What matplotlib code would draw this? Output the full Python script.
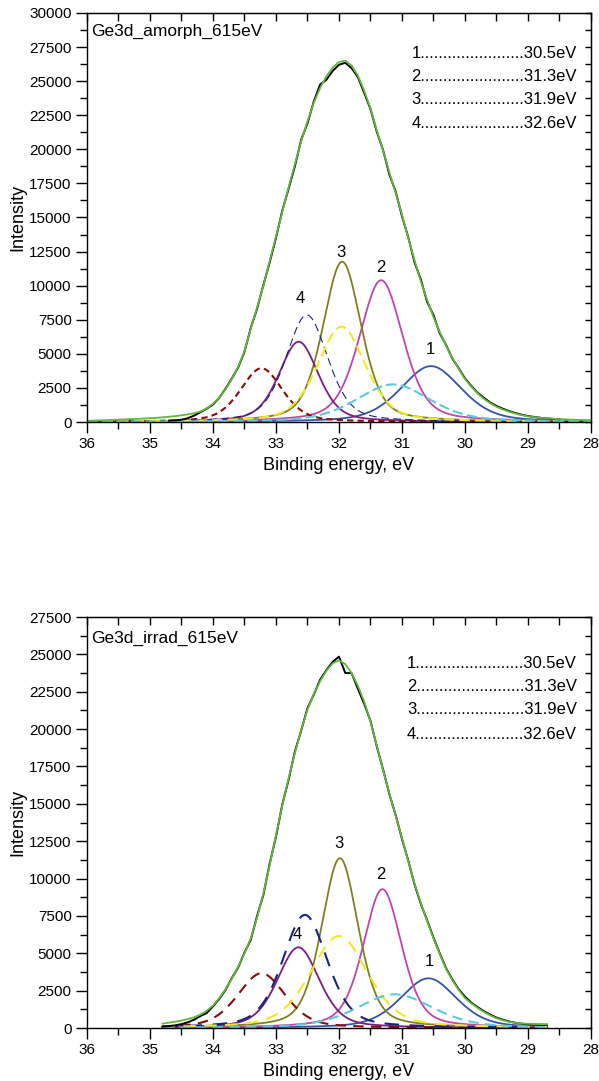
import numpy as np
import matplotlib.pyplot as plt
from matplotlib.ticker import MultipleLocator

plt.rcParams['font.family'] = ['Liberation Sans', 'DejaVu Sans']

a_env_x = np.round(np.arange(36.0, 27.95, -0.1), 1)
a_env_y = [90, 105, 120, 135, 155, 175, 195, 215, 235, 255,
           280, 310, 345, 385, 430, 490, 560, 640, 770, 1000,
           1330, 1800, 2400, 3150, 4050, 5200, 6850, 8400, 10000, 11800,
           13600, 15400, 17200, 18900, 20600, 22050, 23400, 24500, 25350, 26000,
           26400, 26500, 26150, 25400, 24300, 23000, 21400, 19900, 18300, 16800,
           15200, 13500, 11850, 10300, 8950, 7700, 6600, 5600, 4700, 3900,
           3150, 2600, 2100, 1700, 1380, 1120, 920, 760, 620, 510,
           420, 360, 310, 270, 240, 215, 195, 175, 160, 145, 130]

a_dat_x = np.round(np.arange(34.7, 28.45, -0.1), 1)
a_dat_y = [100, 120, 170, 280, 470, 720, 980, 1280, 1780, 2450,
           3200, 4000, 5150, 6900, 8300, 10050, 11700, 13500, 15500, 17100,
           18750, 20700, 21900, 23500, 24750, 25100, 25750, 26200, 26350, 25950,
           25300, 24150, 22950, 21300, 19950, 18150, 16900, 15100, 13550, 11700,
           10450, 8800, 7850, 6500, 5650, 4650, 3950, 3200, 2650, 2150,
           1780, 1430, 1180, 980, 800, 660, 540, 440, 370, 310,
           260, 230, 200]

b_env_x = np.round(np.arange(34.8, 28.65, -0.1), 1)
b_env_y = [290, 360, 420, 500, 600, 720, 900, 1150, 1500, 2000,
           2600, 3300, 4100, 5000, 6000, 7400, 9000, 10900, 12900, 14900,
           16700, 18400, 19950, 21300, 22350, 23200, 23900, 24400, 24600, 24350,
           23750, 22900, 21850, 20500, 18900, 17250, 15700, 14200, 12700, 11150,
           9650, 8350, 7150, 6000, 4950, 3950, 3200, 2550, 2000, 1650,
           1350, 1080, 850, 660, 520, 420, 350, 310, 285, 270,
           265, 260]

b_dat_x = b_env_x
b_dat_y = [100, 130, 180, 260, 380, 560, 800, 1000, 1450, 1950,
           2550, 3350, 4050, 5050, 5900, 7500, 8900, 11000, 12800, 14950,
           16600, 18500, 19900, 21400, 22300, 23300, 23950, 24500, 24850, 23750,
           23750, 22700, 21700, 20550, 18850, 17300, 15650, 14250, 12650, 11200,
           9600, 8300, 7200, 6050, 5000, 4000, 3250, 2600, 2100, 1700,
           1400, 1130, 900, 700, 560, 440, 350, 290, 250, 230,
           215, 210]

# ---- fitted components: centre (eV), height, FWHM (eV) ----
comp_names = ['1', '2', '3', '4', 'red', 'navy', 'yellow', 'cyan']
a_center = [30.54, 31.33, 31.95, 32.64, 33.23, 32.51, 31.96, 31.14]
a_height = [4100, 10400, 11760, 5890, 3940, 7850, 6990, 2760]
a_fwhm = [1.14, 0.82, 0.72, 0.74, 0.79, 0.79, 0.90, 1.38]

b_center = [30.58, 31.31, 31.985, 32.645, 33.23, 32.54, 32.00, 31.11]
b_height = [3325, 9290, 11360, 5400, 3660, 7570, 6160, 2255]
b_fwhm = [1.06, 0.72, 0.69, 0.79, 0.90, 0.84, 1.08, 1.43]

eta = 0.4   # lorentzian fraction of the pseudo-voigt shape

# peak labels (eV, intensity)
a_lab_x = [30.55, 31.33, 31.97, 32.62]
a_lab_y = [5350, 11300, 12450, 9050]
b_lab_x = [30.56, 31.34, 32.0, 32.66]
b_lab_y = [4450, 10250, 12350, 6250]

positions = ['30.5eV', '31.3eV', '31.9eV', '32.6eV']

a_title = 'Ge3d_amorph_615eV'
b_title = 'Ge3d_irrad_615eV'


def pvoigt(x, c, h, w):
    g = np.exp(-4 * np.log(2) * ((x - c) / w) ** 2)
    l = 1.0 / (1.0 + ((x - c) / (w / 2)) ** 2)
    return h * (eta * l + (1 - eta) * g)


solid = ['#3352AA', '#C445A8', '#808020', '#7A1E80']
a_dashed = [('#8B0A0A', 1.5, (3, 2)), ('#1A237E', 0.8, (7, 4)),
            ('#F2EA20', 1.5, (5, 2.5)), ('#5CCAD8', 1.5, (5, 2))]
b_dashed = [('#8B0A0A', 1.5, (5, 3.5)), ('#1A237E', 1.5, (7, 5)),
            ('#F2EA20', 1.5, (6, 4)), ('#5CCAD8', 1.5, (5, 3))]

fig = plt.figure(figsize=(5.99, 10.81), dpi=100)
ax1 = fig.add_axes([0.1452, 0.6096, 0.8414, 0.3784])
ax2 = fig.add_axes([0.1452, 0.0490, 0.8414, 0.3802])

panels = [
    (ax1, a_env_x, a_env_y, a_dat_x, a_dat_y, a_center, a_height, a_fwhm,
     a_dashed, (36, 28), 30000, a_lab_x, a_lab_y, a_title, 23, [0.900, 0.844, 0.788, 0.731]),
    (ax2, b_env_x, b_env_y, b_dat_x, b_dat_y, b_center, b_height, b_fwhm,
     b_dashed, (34.8, 28.7), 27500, b_lab_x, b_lab_y, b_title, 24, [0.888, 0.830, 0.774, 0.713]),
]

for (ax, ex, ey, dx, dy, cen, hei, fw, dsh, rng, ymax,
     lx, ly, title, ndots, rows) in panels:
    x = np.linspace(rng[0], rng[1], 500)
    for i in range(4):
        ax.plot(x, pvoigt(x, cen[i], hei[i], fw[i]), color=solid[i], lw=1.3)
    for j in range(4):
        col, lw, dd = dsh[j]
        ax.plot(x, pvoigt(x, cen[4 + j], hei[4 + j], fw[4 + j]), color=col,
                lw=lw, dashes=dd)
    ax.plot(dx, dy, color='black', lw=1.4)
    ax.plot(ex, ey, color='#62B83A', lw=1.3)

    for k in range(4):
        ax.text(lx[k], ly[k], comp_names[k], ha='center', va='center', fontsize=12)
        ax.text(0.972, rows[k], '%d%s%s' % (k + 1, '.' * ndots, positions[k]),
                transform=ax.transAxes, ha='right', va='center', fontsize=12)
    ax.text(0.008, 0.955 if ymax == 30000 else 0.948, title,
            transform=ax.transAxes, ha='left', va='center', fontsize=12.5)

    ax.set_xlim(36, 28)
    ax.set_ylim(0, ymax)
    ax.xaxis.set_major_locator(MultipleLocator(1))
    ax.xaxis.set_minor_locator(MultipleLocator(0.5))
    ax.yaxis.set_major_locator(MultipleLocator(2500))
    ax.yaxis.set_minor_locator(MultipleLocator(1250))
    ax.tick_params(which='major', direction='out', length=8, width=1,
                   top=False, right=False)
    ax.tick_params(which='minor', direction='out', length=5, width=1,
                   top=False, right=False)
    for sp in ax.spines.values():
        sp.set_linewidth(1)

    sx = ax.secondary_xaxis('top')
    sx.set_xticks(np.arange(28, 36.01, 0.5))
    sx.tick_params(direction='in', length=6, width=1, labeltop=False)
    sy = ax.secondary_yaxis('right')
    sy.set_yticks(np.arange(0, ymax + 1, 1250))
    sy.tick_params(direction='in', length=4, width=1, labelright=False)

    ax.tick_params(axis='both', which='major', labelsize=11, pad=3)

    ax.set_xlabel('Binding energy, eV', fontsize=13)
    ax.set_ylabel('Intensity', fontsize=13)
    ax.xaxis.set_label_coords(0.5, -0.085)
    ax.yaxis.set_label_coords(-0.12, 0.5)

fig.savefig('out.png', dpi=100)
